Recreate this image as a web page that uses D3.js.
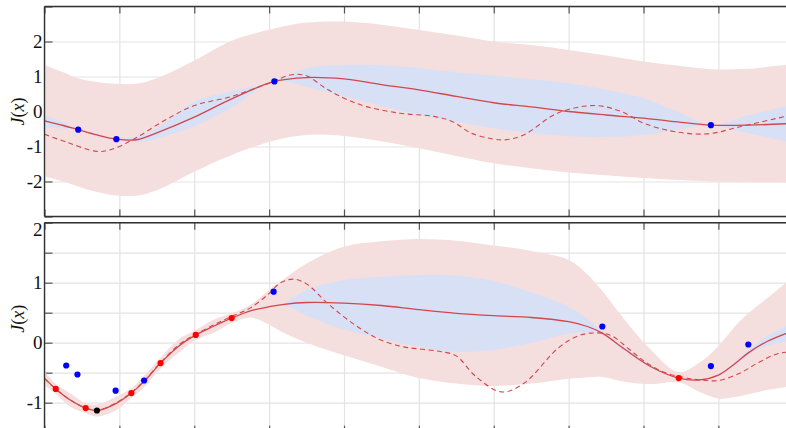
<!DOCTYPE html>
<html>
<head>
<meta charset="utf-8">
<script src="https://cdn.jsdelivr.net/npm/d3@7"></script>
<style>
    html, body { margin: 0; padding: 0; background: #ffffff; }
    svg { display: block; }
    .serif { font-family: "Liberation Serif", "Times New Roman", "DejaVu Serif", serif; }
</style>
</head>
<body>
<div id="graph"></div>
<script>
// Canvas Info
var CanvasInfo = {
    width: 786,
    height: 428,
    id: "#graph",
    type: "svg"
};

// Axis Info
var AxisInfo = {
    left: 44.5,
    right: 793.25,
    tickLength: 8,
    fontSize: "19px"
};

var Colors = {
    outer: "#f4dede",
    inner: "#d8e0f6",
    line: "#d2474b",
    grid: "#e3e3e3",
    spine: "#333333",
    tick: "#555555"
};

// x ticks (both panels)
var xDomain = [0, 10];
var xTicks = [0, 1, 2, 3, 4, 5, 6, 7, 8, 9, 10];

// Top panel
var topX       = [0, 0.25, 0.45, 0.7, 0.96, 1.25, 1.5, 2, 2.5, 3.07, 3.5, 4, 4.5, 5, 5.5, 6, 6.5, 7, 7.5, 8, 8.5, 8.9, 9.4, 10];
var topMean    = [-0.27, -0.40, -0.52, -0.67, -0.79, -0.80, -0.61, -0.16, 0.36, 0.86, 0.97, 0.93, 0.77, 0.62, 0.43, 0.25, 0.13, 0.0, -0.10, -0.19, -0.31, -0.39, -0.39, -0.34];
var topInnerLo = [-0.46, -0.49, -0.52, -0.71, -0.79, -0.88, -0.77, -0.42, 0.12, 0.86, 0.71, 0.43, 0.16, -0.10, -0.30, -0.48, -0.62, -0.71, -0.73, -0.67, -0.51, -0.39, -0.62, -0.90];
var topInnerHi = [-0.10, -0.31, -0.52, -0.63, -0.79, -0.71, -0.47, 0.28, 0.58, 0.86, 1.24, 1.33, 1.32, 1.24, 1.12, 1.02, 0.92, 0.81, 0.62, 0.38, -0.05, -0.39, -0.11, 0.20];
var topOuterLo = [-1.86, -2.0, -2.14, -2.30, -2.40, -2.40, -2.25, -1.72, -1.24, -0.83, -0.67, -0.70, -0.85, -1.05, -1.27, -1.48, -1.62, -1.74, -1.82, -1.90, -1.96, -2.0, -2.02, -2.03];
var topOuterHi = [1.33, 1.12, 0.95, 0.84, 0.79, 0.80, 0.95, 1.45, 2.02, 2.37, 2.54, 2.57, 2.48, 2.33, 2.17, 2.00, 1.90, 1.76, 1.60, 1.43, 1.30, 1.21, 1.22, 1.36];
var topTrueX   = [0, 0.3, 0.7, 0.9, 1.2, 1.6, 2.0, 2.5, 3.0, 3.3, 3.5, 3.75, 4.0, 4.3, 4.75, 5.2, 5.45, 5.7, 6.0, 6.15, 6.4, 6.85, 7.35, 7.7, 8.0, 8.4, 8.85, 9.3, 9.9, 10];
var topTrue    = [-0.65, -0.88, -1.14, -1.08, -0.78, -0.26, 0.17, 0.43, 0.81, 1.05, 1.02, 0.67, 0.38, 0.14, -0.05, -0.14, -0.29, -0.62, -0.79, -0.81, -0.67, -0.05, 0.17, 0.0, -0.33, -0.57, -0.64, -0.43, -0.14, -0.10];
var topBlueX   = [0.45, 0.96, 3.07, 8.9];
var topBlueY   = [-0.52, -0.79, 0.86, -0.39];
var topYTicks  = [-3, -2, -1, 0, 1, 2, 3];
var topYLabels = [-2, -1, 0, 1, 2];

// Bottom panel
var botX       = [0, 0.15, 0.35, 0.55, 0.7, 0.96, 1.16, 1.35, 1.55, 1.8, 2.02, 2.25, 2.5, 2.75, 3.0, 3.2, 3.5, 4, 4.5, 5, 5.5, 6, 6.5, 7, 7.25, 7.45, 7.75, 8.1, 8.47, 8.75, 9, 9.2, 9.4, 9.65, 10];
var botMean    = [-0.59, -0.77, -0.96, -1.09, -1.13, -1.01, -0.84, -0.62, -0.34, -0.05, 0.13, 0.27, 0.41, 0.53, 0.60, 0.64, 0.67, 0.66, 0.62, 0.55, 0.49, 0.45, 0.42, 0.35, 0.27, 0.16, -0.11, -0.40, -0.59, -0.62, -0.54, -0.37, -0.17, 0.02, 0.20];
var botOuterHi = [-0.47, -0.69, -0.85, -1.01, -1.03, -0.90, -0.76, -0.52, -0.25, 0.06, 0.21, 0.38, 0.49, 0.63, 0.88, 1.06, 1.32, 1.60, 1.69, 1.73, 1.70, 1.62, 1.53, 1.38, 1.14, 0.86, 0.38, -0.12, -0.49, -0.33, -0.06, 0.24, 0.49, 0.74, 1.10];
var botOuterLo = [-0.71, -0.85, -1.07, -1.17, -1.23, -1.12, -0.92, -0.72, -0.43, -0.16, 0.05, 0.16, 0.33, 0.42, 0.30, 0.16, 0.0, -0.21, -0.40, -0.59, -0.68, -0.72, -0.68, -0.60, -0.58, -0.57, -0.65, -0.69, -0.66, -0.82, -0.93, -0.91, -0.86, -0.79, -0.72];
var botInnerHi = [-0.59, -0.77, -0.96, -1.09, -1.13, -1.01, -0.84, -0.62, -0.34, -0.05, 0.13, 0.27, 0.41, 0.53, 0.60, 0.66, 0.88, 1.04, 1.10, 1.13, 1.12, 1.03, 0.84, 0.60, 0.40, 0.18, -0.08, -0.38, -0.59, -0.61, -0.53, -0.35, -0.12, 0.11, 0.34];
var botInnerLo = [-0.59, -0.77, -0.96, -1.09, -1.13, -1.01, -0.84, -0.62, -0.34, -0.05, 0.13, 0.27, 0.41, 0.53, 0.60, 0.62, 0.45, 0.22, 0.07, -0.07, -0.15, -0.12, 0.0, 0.15, 0.17, 0.15, -0.14, -0.42, -0.59, -0.63, -0.55, -0.39, -0.20, -0.05, 0.04];
var botTrueX   = [0, 0.15, 0.35, 0.55, 0.7, 0.96, 1.16, 1.35, 1.55, 1.8, 2.02, 2.25, 2.5, 2.75, 3.0, 3.14, 3.32, 3.5, 3.75, 4.0, 4.25, 4.5, 4.8, 5.05, 5.3, 5.5, 5.75, 6.1, 6.4, 6.85, 7.1, 7.3, 7.55, 7.8, 8.0, 8.25, 8.5, 8.75, 9.0, 9.3, 9.55, 9.8, 10];
var botTrue    = [-0.60, -0.77, -0.96, -1.09, -1.13, -1.00, -0.83, -0.61, -0.33, -0.03, 0.14, 0.29, 0.44, 0.58, 0.82, 0.99, 1.06, 0.98, 0.69, 0.43, 0.21, 0.04, -0.07, -0.11, -0.15, -0.22, -0.55, -0.82, -0.68, -0.10, 0.10, 0.16, 0.13, -0.10, -0.30, -0.48, -0.57, -0.62, -0.63, -0.50, -0.32, -0.18, -0.15];
var botRedX    = [0.15, 0.55, 1.16, 1.55, 2.02, 2.5, 8.47];
var botRedY    = [-0.77, -1.09, -0.84, -0.34, 0.13, 0.41, -0.59];
var botBlackX  = [0.7];
var botBlackY  = [-1.13];
var botBlueX   = [0.29, 0.44, 0.95, 1.33, 3.06, 7.45, 8.9, 9.4];
var botBlueY   = [-0.38, -0.53, -0.80, -0.63, 0.85, 0.27, -0.39, -0.03];
var botYTicks  = [-1.5, -1, -0.5, 0, 0.5, 1, 1.5, 2];
var botYLabels = [-1, 0, 1, 2];

/**
 * Setup the svg canvas
 */
function SetupCanvas()
{
    var canvas = d3.select(CanvasInfo.id)
                   .append(CanvasInfo.type)
                   .attr("width", CanvasInfo.width)
                   .attr("height", CanvasInfo.height);

    canvas.append("rect")
          .attr("width", CanvasInfo.width)
          .attr("height", CanvasInfo.height)
          .attr("fill", "#ffffff");

    return canvas;
}

/**
 * Draw one panel
 *
 * @param canvas the svg
 * @param panel layout info for the panel
 * @param data the arrays for the panel
 */
function DrawPanel(canvas, panel, data)
{
    var x = d3.scaleLinear().domain(xDomain).range([AxisInfo.left, AxisInfo.right]);
    var y = d3.scaleLinear().domain(panel.yDomain).range([panel.bottom, panel.top]);
    var plotWidth = AxisInfo.right - AxisInfo.left;
    var plotHeight = panel.bottom - panel.top;

    canvas.append("clipPath")
          .attr("id", panel.id)
          .append("rect")
          .attr("x", AxisInfo.left)
          .attr("y", panel.top)
          .attr("width", plotWidth)
          .attr("height", plotHeight);

    var g = canvas.append("g");

    // Grid
    var vGrid = g.append("g")
                 .attr("transform", "translate(0," + panel.bottom + ")")
                 .call(d3.axisBottom(x).tickValues(xTicks).tickSize(-plotHeight).tickFormat(""));
    var hGrid = g.append("g")
                 .attr("transform", "translate(" + AxisInfo.left + ",0)")
                 .call(d3.axisLeft(y).tickValues(data.yTicks).tickSize(-plotWidth).tickFormat(""));
    [vGrid, hGrid].forEach(function(grid)
    {
        grid.select(".domain").remove();
        grid.selectAll("line").attr("stroke", Colors.grid).attr("stroke-width", 1.2);
    });

    // Tick marks (under the bands, like the original)
    var leftAxis = g.append("g")
                    .attr("transform", "translate(" + AxisInfo.left + ",0)")
                    .call(d3.axisLeft(y)
                            .tickValues(data.yTicks)
                            .tickSize(-AxisInfo.tickLength)
                            .tickPadding(2)
                            .tickFormat(function(v) { return data.yLabels.indexOf(v) >= 0 ? String(v) : ""; }));
    var topAxis = g.append("g")
                   .attr("transform", "translate(0," + panel.top + ")")
                   .call(d3.axisTop(x).tickValues(xTicks).tickSize(-7).tickFormat(""));
    var bottomAxis = g.append("g")
                      .attr("transform", "translate(0," + panel.bottom + ")")
                      .call(d3.axisBottom(x).tickValues(xTicks).tickSize(-7).tickFormat(""));
    [leftAxis, topAxis, bottomAxis].forEach(function(axis)
    {
        axis.select(".domain").remove();
        axis.selectAll("line").attr("stroke", Colors.tick).attr("stroke-width", 1.2);
    });
    leftAxis.attr("font-family", null).attr("font-size", null);
    leftAxis.selectAll("text")
            .attr("class", "serif")
            .style("font-size", AxisInfo.fontSize)
            .attr("fill", "#111111");
    if (panel.topLabelShift)
    {
        leftAxis.selectAll(".tick")
                .filter(function(v) { return v === panel.yDomain[1]; })
                .select("text")
                .attr("dy", panel.topLabelShift);
    }

    // Bands
    var plot = canvas.append("g").attr("clip-path", "url(#" + panel.id + ")");
    var idx = d3.range(data.x.length);

    var outerArea = d3.area()
                      .curve(d3.curveCatmullRom)
                      .x(function(i) { return x(data.x[i]); })
                      .y0(function(i) { return y(data.outerLo[i]); })
                      .y1(function(i) { return y(data.outerHi[i]); });
    var innerArea = d3.area()
                      .curve(d3.curveCatmullRom)
                      .x(function(i) { return x(data.x[i]); })
                      .y0(function(i) { return y(data.innerLo[i]); })
                      .y1(function(i) { return y(data.innerHi[i]); });

    plot.append("path").datum(idx).attr("d", outerArea).attr("fill", Colors.outer);
    plot.append("path").datum(idx).attr("d", innerArea).attr("fill", Colors.inner);

    // True function (dashed)
    var trueLine = d3.line()
                     .curve(d3.curveCatmullRom)
                     .x(function(i) { return x(data.trueX[i]); })
                     .y(function(i) { return y(data.trueY[i]); });
    plot.append("path")
        .datum(d3.range(data.trueX.length))
        .attr("d", trueLine)
        .attr("fill", "none")
        .attr("stroke", Colors.line)
        .attr("stroke-width", 1.1)
        .attr("stroke-dasharray", "5,3.5");

    // Mean (solid)
    var meanLine = d3.line()
                     .curve(d3.curveCatmullRom)
                     .x(function(i) { return x(data.x[i]); })
                     .y(function(i) { return y(data.mean[i]); });
    plot.append("path")
        .datum(idx)
        .attr("d", meanLine)
        .attr("fill", "none")
        .attr("stroke", Colors.line)
        .attr("stroke-width", 1.3);

    // Points
    data.points.forEach(function(set)
    {
        plot.selectAll(null)
            .data(d3.range(set.x.length))
            .enter()
            .append("circle")
            .attr("cx", function(i) { return x(set.x[i]); })
            .attr("cy", function(i) { return y(set.y[i]); })
            .attr("r", 3.1)
            .attr("fill", set.color);
    });

    // Spines
    var spines = canvas.append("g")
                       .attr("stroke", Colors.spine)
                       .attr("stroke-width", 1.4);
    spines.append("line")
          .attr("x1", AxisInfo.left).attr("x2", AxisInfo.left)
          .attr("y1", panel.top).attr("y2", panel.bottom);
    spines.append("line")
          .attr("x1", AxisInfo.left).attr("x2", AxisInfo.right)
          .attr("y1", panel.top).attr("y2", panel.top);
    spines.append("line")
          .attr("x1", AxisInfo.left).attr("x2", AxisInfo.right)
          .attr("y1", panel.bottom).attr("y2", panel.bottom);

    // y label J(x)
    var label = canvas.append("text")
                      .attr("class", "serif")
                      .attr("transform", "translate(" + panel.labelX + "," + y(panel.labelAt) + ") rotate(-90)")
                      .attr("text-anchor", "middle")
                      .attr("dominant-baseline", "middle")
                      .style("font-size", "18px")
                      .attr("fill", "#111111");
    label.append("tspan").attr("font-style", "italic").text("J");
    label.append("tspan").text("(");
    label.append("tspan").attr("font-style", "italic").text("x");
    label.append("tspan").text(")");
}

var canvas = SetupCanvas();

DrawPanel(canvas,
    { id: "clipTop", top: 6.5, bottom: 216.5, yDomain: [-3, 3], labelX: 20, labelAt: 0 },
    {
        x: topX, mean: topMean,
        innerLo: topInnerLo, innerHi: topInnerHi,
        outerLo: topOuterLo, outerHi: topOuterHi,
        trueX: topTrueX, trueY: topTrue,
        yTicks: topYTicks, yLabels: topYLabels,
        points: [ { x: topBlueX, y: topBlueY, color: "#0000ff" } ]
    });

DrawPanel(canvas,
    { id: "clipBottom", top: 222.7, bottom: 432.7, yDomain: [-1.5, 2], labelX: 20, labelAt: 0.4, topLabelShift: "0.65em" },
    {
        x: botX, mean: botMean,
        innerLo: botInnerLo, innerHi: botInnerHi,
        outerLo: botOuterLo, outerHi: botOuterHi,
        trueX: botTrueX, trueY: botTrue,
        yTicks: botYTicks, yLabels: botYLabels,
        points: [
            { x: botRedX, y: botRedY, color: "#ff0000" },
            { x: botBlackX, y: botBlackY, color: "#000000" },
            { x: botBlueX, y: botBlueY, color: "#0000ff" }
        ]
    });
</script>
</body>
</html>
